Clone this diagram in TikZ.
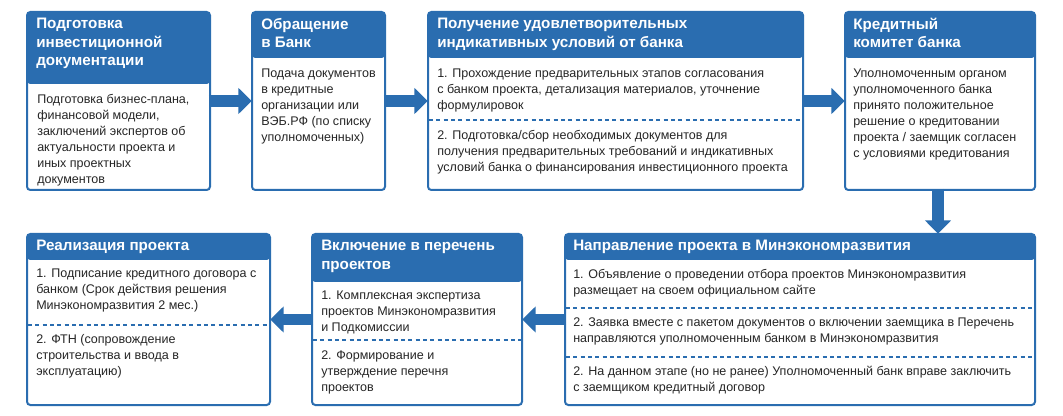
\documentclass[tikz,border=0pt]{standalone}
\usepackage{fontspec}
\setmainfont{Liberation Sans}
\usetikzlibrary{arrows.meta,fit}
\definecolor{mblue}{HTML}{2A6DB0}
\tikzset{
  x=0.75pt,y=-0.75pt,
  hdr/.style={anchor=north west,inner sep=0,text=white,font=\fontsize{11.4}{13.8}\selectfont\bfseries,align=left},
  bdy/.style={anchor=north west,inner sep=0,text=black!85,font=\fontsize{9.4}{12}\selectfont,align=left},
  sep/.style={draw=mblue,dashed,line width=1pt,dash pattern=on 3pt off 2.5pt},
  arr/.style={draw=mblue,line width=8.5pt,-{Triangle[length=10pt,width=19pt]},shorten <=-1pt},
}
\newcommand\stagebox[6]{%
  \draw[mblue,fill=white,line width=1.5pt,rounded corners=2.5pt] (#2,#3) rectangle (#4,#5);
  \fill[mblue,rounded corners=2.5pt] (#2,#3) rectangle (#4,#6);
  \node[fit={(#2,#3) (#4,#5)},inner sep=0] (#1) {};
}
\begin{document}
\begin{tikzpicture}
\useasboundingbox (0,0) rectangle (1063,416);
% top row
\stagebox{b1}{27}{12}{210}{190}{84}
\node[hdr] at (36,18) {Подготовка\\инвестиционной\\документации};
\node[bdy] at (37,94) {Подготовка бизнес-плана,\\финансовой модели,\\заключений экспертов об\\актуальности проекта и\\иных проектных\\документов};
\stagebox{b2}{252}{12}{385}{190}{58}
\node[hdr] at (261,18) {Обращение\\в Банк};
\node[bdy] at (261,69) {Подача документов\\в кредитные\\организации или\\ВЭБ.РФ (по списку\\уполномоченных)};
\stagebox{b3}{428}{12}{803}{190}{58}
\node[hdr] at (437,18) {Получение удовлетворительных\\индикативных условий от банка};
\node[bdy] at (437,69) {1. Прохождение предварительных этапов согласования\\с банком проекта, детализация материалов, уточнение\\формулировок};
\draw[sep] (429,120) -- (802,120);
\node[bdy] at (437,130) {2. Подготовка/сбор необходимых документов для\\получения предварительных требований и индикативных\\условий банка о финансирования инвестиционного проекта};
\stagebox{b4}{845}{12}{1035}{190}{58}
\node[hdr] at (853,18) {Кредитный\\комитет банка};
\node[bdy] at (853,69) {Уполномоченным органом\\уполномоченного банка\\принято положительное\\решение о кредитовании\\проекта / заемщик согласен\\с условиями кредитования};
% bottom row
\stagebox{b5}{565}{234}{1035}{405}{260}
\node[hdr] at (573,240) {Направление проекта в Минэкономразвития};
\node[bdy] at (573,269) {1. Объявление о проведении отбора проектов Минэкономразвития\\размещает на своем официальном сайте};
\draw[sep] (566,308) -- (1034,308);
\node[bdy] at (573,317) {2. Заявка вместе с пакетом документов о включении заемщика в Перечень\\направляются уполномоченным банком в Минэкономразвития};
\draw[sep] (566,357) -- (1034,357);
\node[bdy] at (573,366) {2. На данном этапе (но не ранее) Уполномоченный банк вправе заключить\\с заемщиком кредитный договор};
\stagebox{b6}{312}{234}{522}{405}{282}
\node[hdr] at (321,240) {Включение в перечень\\проектов};
\node[bdy] at (321,291) {1. Комплексная экспертиза\\проектов Минэкономразвития\\и Подкомиссии};
\draw[sep] (313,340) -- (521,340);
\node[bdy] at (321,350) {2. Формирование и\\утверждение перечня\\проектов};
\stagebox{b7}{27}{234}{270}{405}{260}
\node[hdr] at (36,240) {Реализация проекта};
\node[bdy] at (36,269) {1. Подписание кредитного договора с\\банком (Срок действия решения\\Минэкономразвития 2 мес.)};
\draw[sep] (28,325) -- (269,325);
\node[bdy] at (36,334) {2. ФТН (сопровождение\\строительства и ввода в\\эксплуатацию)};
% arrows
\draw[arr] (b1) -- (b2);
\draw[arr] (b2) -- (b3);
\draw[arr] (b3) -- (b4);
\draw[arr] (b4.south -| 938,0) -- (b5.north -| 938,0);
\draw[arr] (b5) -- (b6);
\draw[arr] (b6) -- (b7);
\end{tikzpicture}
\end{document}
